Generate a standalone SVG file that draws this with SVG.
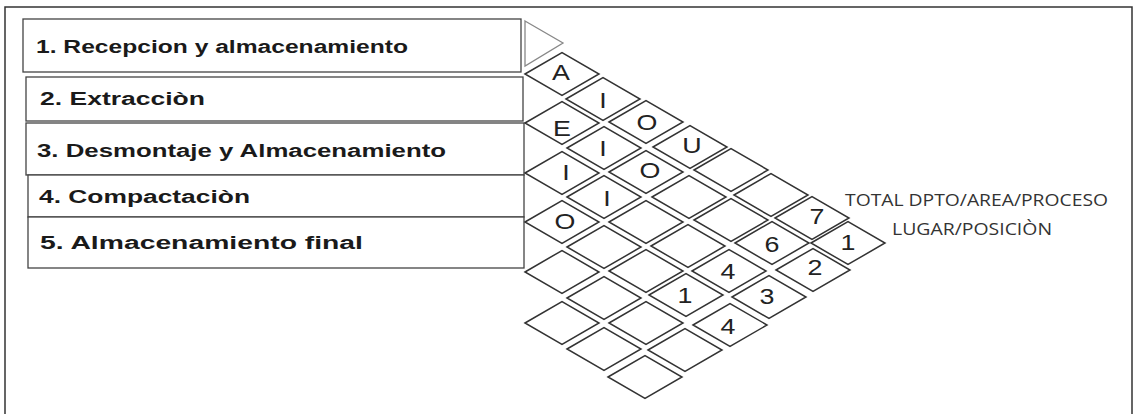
<svg xmlns="http://www.w3.org/2000/svg" xmlns:xlink="http://www.w3.org/1999/xlink" width="1138" height="414" viewBox="0 0 1138 414">
<style>
.frame{fill:none;stroke:#333;stroke-width:1.5}
.box{fill:#fff;stroke:#444;stroke-width:1.3}
.bt{font-family:"Liberation Sans",Arial,sans-serif;font-weight:bold;font-size:18px;fill:#1a1a1a}
.dm{fill:#fff;stroke:#333;stroke-width:1.5}
.dt{font-family:"Liberation Sans",Arial,sans-serif;font-size:22px;fill:#222;text-anchor:middle}
.lb{font-family:"Open Sans","Liberation Sans",sans-serif;font-size:16px;fill:#333}
.tri{fill:#fff;stroke:#888;stroke-width:1.3}
</style>
<defs>
<path id="d" d="M-37,0 L0,-21.5 L37,0 L0,21.5 Z"/>
</defs>
<rect width="1138" height="414" fill="#fff"/>
<path class="frame" d="M5,420 L5,7 L1132,7 L1132,420"/>

<g id="dept1"><rect class="box" x="23" y="19" width="498" height="53"/><text class="bt" x="36" y="53" textLength="372" lengthAdjust="spacingAndGlyphs">1. Recepcion y almacenamiento</text></g>
<g id="dept2"><rect class="box" x="26" y="77" width="497" height="44"/><text class="bt" x="40" y="105" textLength="165" lengthAdjust="spacingAndGlyphs">2. Extracciòn</text></g>
<g id="dept3"><rect class="box" x="26" y="123" width="498" height="52"/><text class="bt" x="37" y="157" textLength="409" lengthAdjust="spacingAndGlyphs">3. Desmontaje y Almacenamiento</text></g>
<g id="dept4"><rect class="box" x="28" y="175" width="496" height="42"/><text class="bt" x="39" y="203" textLength="211" lengthAdjust="spacingAndGlyphs">4. Compactaciòn</text></g>
<g id="dept5"><rect class="box" x="28" y="217" width="496" height="51"/><text class="bt" x="40" y="249" textLength="323" lengthAdjust="spacingAndGlyphs">5. Almacenamiento final</text></g>

<g id="marker-triangle"><path class="tri" d="M525,21 L563,43 L525,66 Z"/></g>

<g id="grid">
<g id="c0k0"><use xlink:href="#d" href="#d" class="dm" x="562" y="74"/><text class="dt" transform="translate(561,80) scale(1.22,1)">A</text></g>
<g id="c0k1"><use href="#d" class="dm" x="562" y="123"/><text class="dt" transform="translate(562,135.5) scale(1.22,1)">E</text></g>
<g id="c0k2"><use href="#d" class="dm" x="562" y="173"/><text class="dt" transform="translate(566,179.5) scale(1.22,1)">I</text></g>
<g id="c0k3"><use href="#d" class="dm" x="562" y="222"/><text class="dt" transform="translate(565,229) scale(1.22,1)">O</text></g>
<g id="c0k4"><use href="#d" class="dm" x="562" y="272"/></g>
<g id="c0k5"><use href="#d" class="dm" x="562" y="323"/></g>

<g id="c1k0"><use href="#d" class="dm" x="603" y="99"/><text class="dt" transform="translate(603,107.5) scale(1.22,1)">I</text></g>
<g id="c1k1"><use href="#d" class="dm" x="604" y="148"/><text class="dt" transform="translate(603,155.5) scale(1.22,1)">I</text></g>
<g id="c1k2"><use href="#d" class="dm" x="604" y="197"/><text class="dt" transform="translate(607,206) scale(1.22,1)">I</text></g>
<g id="c1k3"><use href="#d" class="dm" x="604" y="247"/></g>
<g id="c1k4"><use href="#d" class="dm" x="604" y="298"/></g>
<g id="c1k5"><use href="#d" class="dm" x="604" y="349"/></g>

<g id="c2k0"><use href="#d" class="dm" x="646" y="122"/><text class="dt" transform="translate(647,130) scale(1.22,1)">O</text></g>
<g id="c2k1"><use href="#d" class="dm" x="646" y="172"/><text class="dt" transform="translate(650,178) scale(1.22,1)">O</text></g>
<g id="c2k2"><use href="#d" class="dm" x="646" y="222"/></g>
<g id="c2k3"><use href="#d" class="dm" x="646" y="271"/></g>
<g id="c2k4"><use href="#d" class="dm" x="646" y="323"/></g>
<g id="c2k5"><use href="#d" class="dm" x="645" y="377"/></g>

<g id="c3k0"><use href="#d" class="dm" x="690" y="147"/><text class="dt" transform="translate(692,153) scale(1.22,1)">U</text></g>
<g id="c3k1"><use href="#d" class="dm" x="689" y="197"/></g>
<g id="c3k2"><use href="#d" class="dm" x="688" y="246"/></g>
<g id="c3k3"><use href="#d" class="dm" x="686" y="295"/><text class="dt" transform="translate(685,303) scale(1.22,1)">1</text></g>
<g id="c3k4"><use href="#d" class="dm" x="685" y="350"/></g>

<g id="c4k0"><use href="#d" class="dm" x="731" y="170"/></g>
<g id="c4k1"><use href="#d" class="dm" x="731" y="220"/></g>
<g id="c4k2"><use href="#d" class="dm" x="729" y="271"/><text class="dt" transform="translate(728,279) scale(1.22,1)">4</text></g>
<g id="c4k3"><use href="#d" class="dm" x="730" y="325"/><text class="dt" transform="translate(728,334) scale(1.22,1)">4</text></g>

<g id="c5k0"><use href="#d" class="dm" x="771" y="195"/></g>
<g id="c5k1"><use href="#d" class="dm" x="772" y="243"/><text class="dt" transform="translate(772,252) scale(1.22,1)">6</text></g>
<g id="c5k2"><use href="#d" class="dm" x="769" y="297"/><text class="dt" transform="translate(767,304) scale(1.22,1)">3</text></g>

<g id="c6k0"><use href="#d" class="dm" x="812" y="218"/><text class="dt" transform="translate(817,224) scale(1.22,1)">7</text></g>
<g id="c6k1"><use href="#d" class="dm" x="813" y="270"/><text class="dt" transform="translate(815,275) scale(1.22,1)">2</text></g>

<g id="c7k0"><use href="#d" class="dm" x="848" y="243"/><text class="dt" transform="translate(848,250) scale(1.22,1)">1</text></g>
</g>

<g id="label-total"><text class="lb" x="845" y="206" textLength="263" lengthAdjust="spacingAndGlyphs">TOTAL DPTO/AREA/PROCESO</text></g>
<g id="label-lugar"><text class="lb" x="892" y="235" textLength="160" lengthAdjust="spacingAndGlyphs">LUGAR/POSICIÒN</text></g>
</svg>
